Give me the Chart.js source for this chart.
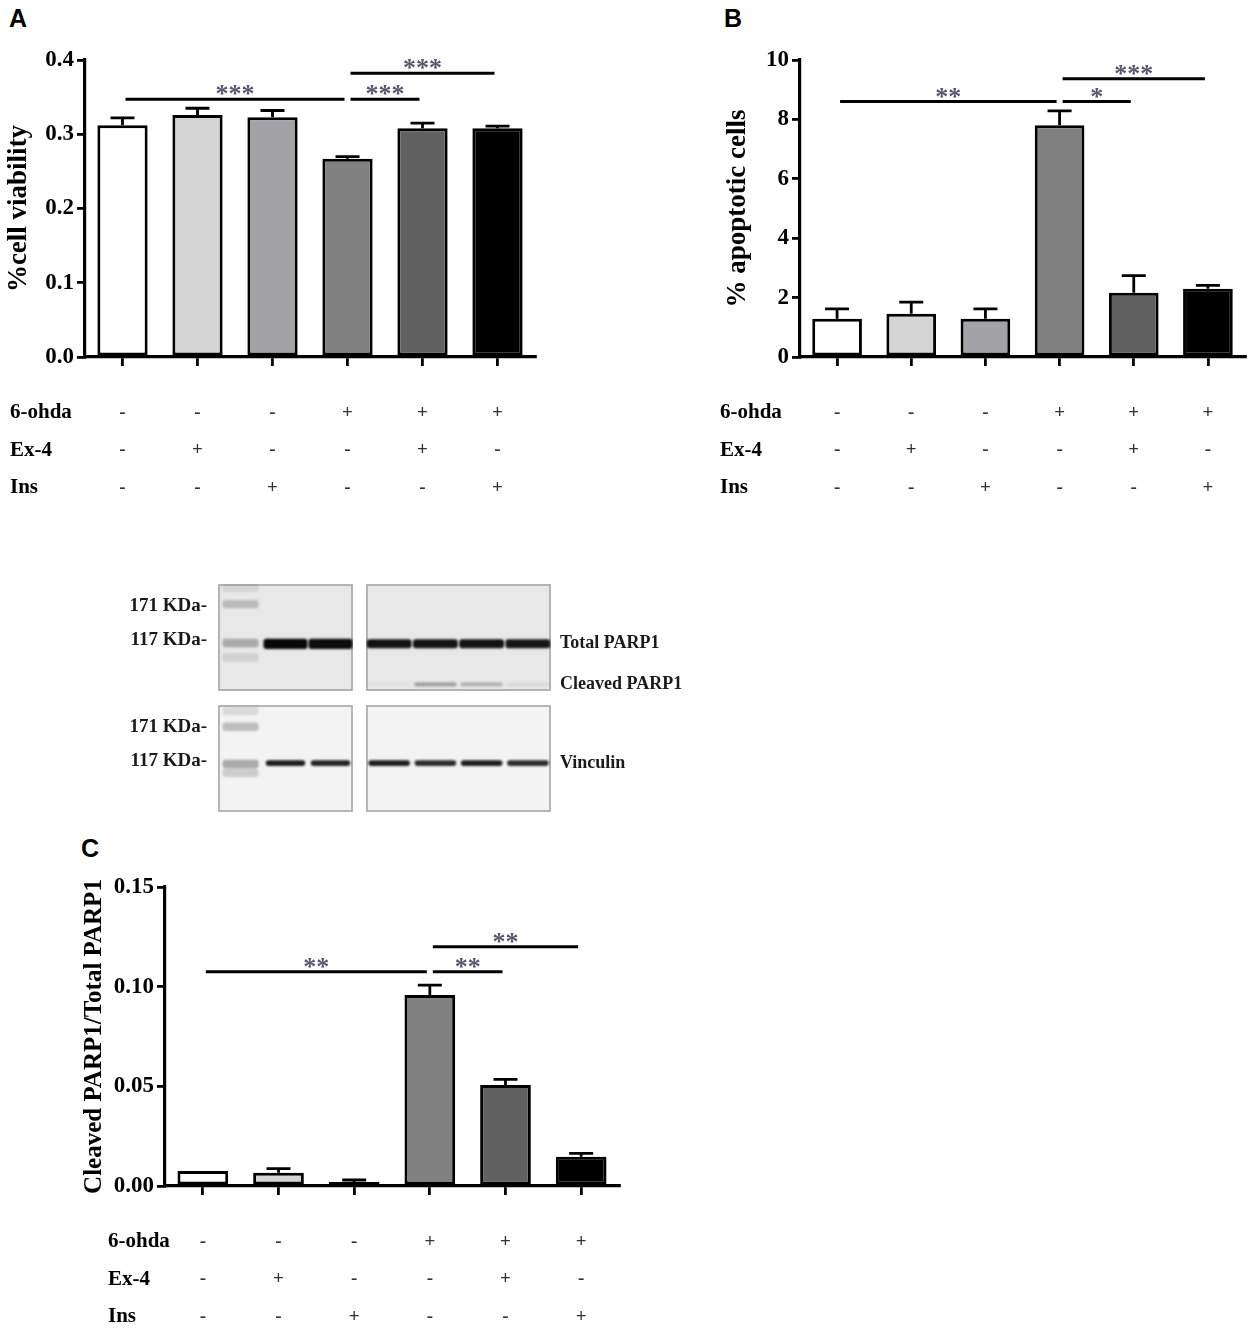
<!DOCTYPE html>
<html>
<head>
<meta charset="utf-8">
<title>6-OHDA, Ex-4 and insulin</title>
<script src="https://cdn.jsdelivr.net/npm/chart.js@4.4.1/dist/chart.umd.min.js"></script>
<style>
	body { margin: 0; background: #fff; width: 1252px; height: 1330px; position: relative; overflow: hidden; }
	.box { position: absolute; }
	.letter { position: absolute; font: bold 25px "Liberation Sans", Arial, sans-serif; color: #000; }
</style>
</head>
<body>
<div class="letter" style="left:9px;top:4px">A</div>
<div class="letter" style="left:724px;top:4px">B</div>
<div class="letter" style="left:81px;top:834px">C</div>

<div class="box" style="left:0;top:0;width:560px;height:510px"><canvas id="chartA"></canvas></div>
<div class="box" style="left:712px;top:0;width:540px;height:510px"><canvas id="chartB"></canvas></div>
<div class="box" style="left:77px;top:827px;width:560px;height:503px"><canvas id="chartC"></canvas></div>

<div class="box" style="left:118px;top:584px;width:235px;height:107px"><canvas id="blotTL"></canvas></div>
<div class="box" style="left:366px;top:584px;width:340px;height:107px"><canvas id="blotTR"></canvas></div>
<div class="box" style="left:118px;top:705px;width:235px;height:107px"><canvas id="blotBL"></canvas></div>
<div class="box" style="left:366px;top:705px;width:340px;height:107px"><canvas id="blotBR"></canvas></div>

<script>
// groups, same order in all three panels
var groups = ['Control', 'Ex-4', 'Ins', '6-ohda', '6-ohda + Ex-4', '6-ohda + Ins'];
var barColors = ['#ffffff', '#d4d4d4', '#a3a3a7', '#808080', '#616161', '#000000'];

// treatment table under each chart
var condNames = ['6-ohda', 'Ex-4', 'Ins'];
var cond6ohda = ['-', '-', '-', '+', '+', '+'];
var condEx4 = ['-', '+', '-', '-', '+', '-'];
var condIns = ['-', '-', '+', '-', '-', '+'];

// A - cell viability
var viabilityMean = [0.312, 0.326, 0.323, 0.267, 0.308, 0.308];
var viabilitySem = [0.010, 0.009, 0.009, 0.003, 0.007, 0.003];
var viabilityTicks = [0, 0.1, 0.2, 0.3, 0.4];
var viabilityTickLabels = ['0.0', '0.1', '0.2', '0.3', '0.4'];
// [from group, to group, height, stars]
var viabilitySig = [[0, 3, 0.347, '***'], [3, 4, 0.347, '***'], [3, 5, 0.382, '***']];

// B - apoptotic cells
var apoptosisMean = [1.29, 1.46, 1.29, 7.80, 2.16, 2.30];
var apoptosisSem = [0.33, 0.39, 0.33, 0.49, 0.58, 0.11];
var apoptosisTicks = [0, 2, 4, 6, 8, 10];
var apoptosisTickLabels = ['0', '2', '4', '6', '8', '10'];
var apoptosisSig = [[0, 3, 8.6, '**'], [3, 4, 8.6, '*'], [3, 5, 9.37, '***']];

// C - cleaved / total PARP1
var parpRatioMean = [0.0075, 0.0067, 0.0020, 0.0958, 0.0507, 0.0147];
var parpRatioSem = [0, 0.0020, 0.0010, 0.0050, 0.0028, 0.0017];
var parpRatioTicks = [0, 0.05, 0.10, 0.15];
var parpRatioTickLabels = ['0.00', '0.05', '0.10', '0.15'];
var parpRatioSig = [[0, 3, 0.1075, '**'], [3, 4, 0.1075, '**'], [3, 5, 0.120, '**']];

// western blot, band positions in kDa and densities per lane
var blotLanesLeft = ['Marker', 'Control', 'Ex-4'];
var blotLanesRight = ['Ins', '6-ohda', '6-ohda + Ex-4', '6-ohda + Ins'];
var markerKDa = [167, 117];
var markerLabels = ['171 KDa-', '117 KDa-'];
var parpKDa = [113, 74];
var parpLabels = ['Total PARP1', 'Cleaved PARP1'];
var vinculinKDa = [115];
var vinculinLabels = ['Vinculin'];
var ladderTopKDa = [203, 171, 114, 98];
var ladderTopDensity = [0.12, 0.28, 0.38, 0.14];
var ladderBottomKDa = [198, 168, 114, 104];
var ladderBottomDensity = [0.14, 0.3, 0.42, 0.22];
var totalParpDensity = [0.97, 0.95, 0.92, 0.92, 0.92, 0.9];
var cleavedParpDensity = [0, 0, 0.03, 0.3, 0.22, 0.06];
var vinculinDensity = [0.88, 0.85, 0.88, 0.82, 0.88, 0.82];

var serif = '"Liberation Serif", "Times New Roman", serif';

var annotPlugin = {
	id: 'annot',
	afterDatasetsDraw: function (chart, args, opts) {
		var ctx = chart.ctx, x = chart.scales.x, y = chart.scales.y;
		var meta = chart.getDatasetMeta(0);
		ctx.save();
		ctx.strokeStyle = '#000';
		ctx.lineWidth = 2.8;
		//error bars, upper half only
		opts.sem.forEach(function (s, i) {
			if (!s) return;
			var bar = meta.data[i];
			var top = y.getPixelForValue(opts.mean[i] + s);
			ctx.beginPath();
			ctx.moveTo(bar.x, bar.y);
			ctx.lineTo(bar.x, top);
			ctx.moveTo(bar.x - 12, top);
			ctx.lineTo(bar.x + 12, top);
			ctx.stroke();
		});
		//significance bars
		ctx.lineWidth = 3;
		ctx.fillStyle = '#55556e';
		ctx.font = 'bold 26px ' + serif;
		ctx.textAlign = 'center';
		ctx.textBaseline = 'alphabetic';
		opts.sig.forEach(function (s) {
			var x0 = x.getPixelForValue(s[0]) + 3;
			var x1 = x.getPixelForValue(s[1]) - 3;
			var py = y.getPixelForValue(s[2]);
			ctx.beginPath();
			ctx.moveTo(x0, py);
			ctx.lineTo(x1, py);
			ctx.stroke();
			ctx.fillText(s[3], (x0 + x1) / 2, py + 3);
		});
		ctx.restore();
	},
	afterDraw: function (chart, args, opts) {
		var ctx = chart.ctx, x = chart.scales.x;
		var rows = [cond6ohda, condEx4, condIns];
		ctx.save();
		ctx.textBaseline = 'middle';
		rows.forEach(function (row, k) {
			var py = chart.chartArea.bottom + 56 + k * 37.5;
			ctx.fillStyle = '#000';
			ctx.textAlign = 'left';
			ctx.font = 'bold 21px ' + serif;
			ctx.fillText(condNames[k], opts.labelX, py);
			ctx.fillStyle = '#333';
			ctx.textAlign = 'center';
			ctx.font = 'bold 19px ' + serif;
			row.forEach(function (m, i) {
				ctx.fillText(m, x.getPixelForValue(i), py);
			});
		});
		ctx.restore();
	}
};

function barChart(id, mean, sem, sig, ticks, tickLabels, title, titleSize, yWidth, titleGap, pad, labelX) {
	return new Chart(document.getElementById(id), {
		type: 'bar',
		data: {
			labels: groups,
			datasets: [{
				data: mean,
				backgroundColor: barColors,
				borderColor: '#000',
				borderWidth: 3,
				borderSkipped: false,
				barPercentage: 0.67,
				categoryPercentage: 1
			}]
		},
		options: {
			responsive: true,
			maintainAspectRatio: false,
			animation: false,
			layout: { padding: pad },
			plugins: {
				legend: { display: false },
				tooltip: { enabled: false },
				annot: { mean: mean, sem: sem, sig: sig, labelX: labelX }
			},
			scales: {
				x: {
					ticks: { display: false },
					grid: { offset: false, drawOnChartArea: false, color: '#000', lineWidth: 2.8, tickLength: 9 },
					border: { color: '#000', width: 3.2 },
					afterFit: function (s) { s.height = 9; }
				},
				y: {
					min: ticks[0],
					max: ticks[ticks.length - 1],
					afterBuildTicks: function (s) {
						s.ticks = ticks.map(function (v) { return { value: v }; });
					},
					ticks: {
						color: '#000',
						padding: 3,
						font: { family: serif, weight: 'bold', size: 23 },
						callback: function (v, i) { return tickLabels[i]; }
					},
					grid: { drawOnChartArea: false, color: '#000', lineWidth: 2.8, tickLength: 8 },
					border: { color: '#000', width: 3.2 },
					title: {
						display: true,
						text: title,
						color: '#000',
						font: { family: serif, weight: 'bold', size: titleSize },
						padding: { top: titleGap, bottom: 0 }
					},
					afterFit: function (s) { s.width = yWidth; }
				}
			}
		},
		plugins: [annotPlugin]
	});
}

barChart('chartA', viabilityMean, viabilitySem, viabilitySig, viabilityTicks, viabilityTickLabels,
	'%cell viability', 27, 85, 3, { top: 60, right: 25, bottom: 144, left: 0 }, 10);
barChart('chartB', apoptosisMean, apoptosisSem, apoptosisSig, apoptosisTicks, apoptosisTickLabels,
	'% apoptotic cells', 27, 88, 10, { top: 60, right: 7, bottom: 144, left: 0 }, 8);
barChart('chartC', parpRatioMean, parpRatioSem, parpRatioSig, parpRatioTicks, parpRatioTickLabels,
	'Cleaved PARP1/Total PARP1', 25, 88, 3, { top: 60, right: 18, bottom: 135, left: 0 }, 31);

// ---------- western blot ----------
var blotPlugin = {
	id: 'blot',
	beforeDraw: function (chart, args, opts) {
		var a = chart.chartArea, ctx = chart.ctx;
		ctx.save();
		ctx.fillStyle = opts.bg;
		ctx.fillRect(a.left, a.top, a.right - a.left, a.bottom - a.top);
		ctx.strokeStyle = '#a2a2a2';
		ctx.lineWidth = 1.5;
		ctx.strokeRect(a.left + 1, a.top + 1, a.right - a.left - 2, a.bottom - a.top - 2);
		ctx.restore();
	},
	beforeDatasetsDraw: function (chart) {
		chart.ctx.save();
		chart.ctx.filter = 'blur(1.2px)';
	},
	afterDatasetsDraw: function (chart) {
		chart.ctx.restore();
	}
};

function band(kda, spread) {
	return [kda / spread, kda * spread];
}

function bandSet(lanes, kda, spread, rgb, width) {
	return {
		data: lanes.map(function (d) { return d ? band(kda, spread) : null; }),
		backgroundColor: lanes.map(function (d) { return 'rgba(' + rgb + ',' + d + ')'; }),
		borderWidth: 0,
		borderRadius: 3,
		borderSkipped: false,
		grouped: false,
		barPercentage: width,
		categoryPercentage: 1
	};
}

function blotChart(id, lanes, sets, bg, side, ticks, labels, axisWidth, fontSize, gap) {
	return new Chart(document.getElementById(id), {
		type: 'bar',
		data: { labels: lanes, datasets: sets },
		options: {
			responsive: true,
			maintainAspectRatio: false,
			animation: false,
			layout: { padding: 0 },
			plugins: { legend: { display: false }, tooltip: { enabled: false }, blot: { bg: bg } },
			scales: {
				x: { display: false },
				y: {
					type: 'logarithmic',
					position: side,
					min: 69,
					max: 211,
					afterBuildTicks: function (s) {
						s.ticks = ticks.map(function (v) { return { value: v }; });
					},
					ticks: {
						color: '#1a1a1a',
						padding: gap,
						font: { family: serif, weight: 'bold', size: fontSize },
						callback: function (v, i) { return labels[i]; }
					},
					grid: { display: false, drawTicks: false },
					border: { display: false },
					afterFit: function (s) {
						s.width = axisWidth;
						s.paddingTop = 0;
						s.paddingBottom = 0;
					}
				}
			}
		},
		plugins: [blotPlugin]
	});
}

function ladderSets(kdas, dens, nLanes) {
	return kdas.map(function (k, j) {
		var lanes = [dens[j]];
		for (var i = 1; i < nLanes; i++) lanes.push(0);
		return bandSet(lanes, k, 1.045, '70,70,70', 0.8);
	});
}

var leftTotal = [0].concat(totalParpDensity.slice(0, 2));
var rightTotal = totalParpDensity.slice(2);
var rightCleaved = cleavedParpDensity.slice(2);
var leftVinc = [0].concat(vinculinDensity.slice(0, 2));
var rightVinc = vinculinDensity.slice(2);

blotChart('blotTL', blotLanesLeft,
	ladderSets(ladderTopKDa, ladderTopDensity, 3).concat([bandSet(leftTotal, parpKDa[0], 1.055, '0,0,0', 0.98)]),
	'#e8e8e8', 'left', markerKDa, markerLabels, 100, 19, 11);
blotChart('blotTR', blotLanesRight,
	[bandSet(rightTotal, parpKDa[0], 1.048, '0,0,0', 0.97),
	 bandSet(rightCleaved, parpKDa[1], 1.022, '0,0,0', 0.92)],
	'#e8e8e8', 'right', parpKDa, parpLabels, 155, 18, 9);
blotChart('blotBL', blotLanesLeft,
	ladderSets(ladderBottomKDa, ladderBottomDensity, 3).concat([bandSet(leftVinc, vinculinKDa[0], 1.03, '0,0,0', 0.88)]),
	'#f3f3f3', 'left', markerKDa, markerLabels, 100, 19, 11);
blotChart('blotBR', blotLanesRight,
	[bandSet(rightVinc, vinculinKDa[0], 1.03, '0,0,0', 0.9)],
	'#f3f3f3', 'right', vinculinKDa, vinculinLabels, 155, 18, 9);
</script>
</body>
</html>
